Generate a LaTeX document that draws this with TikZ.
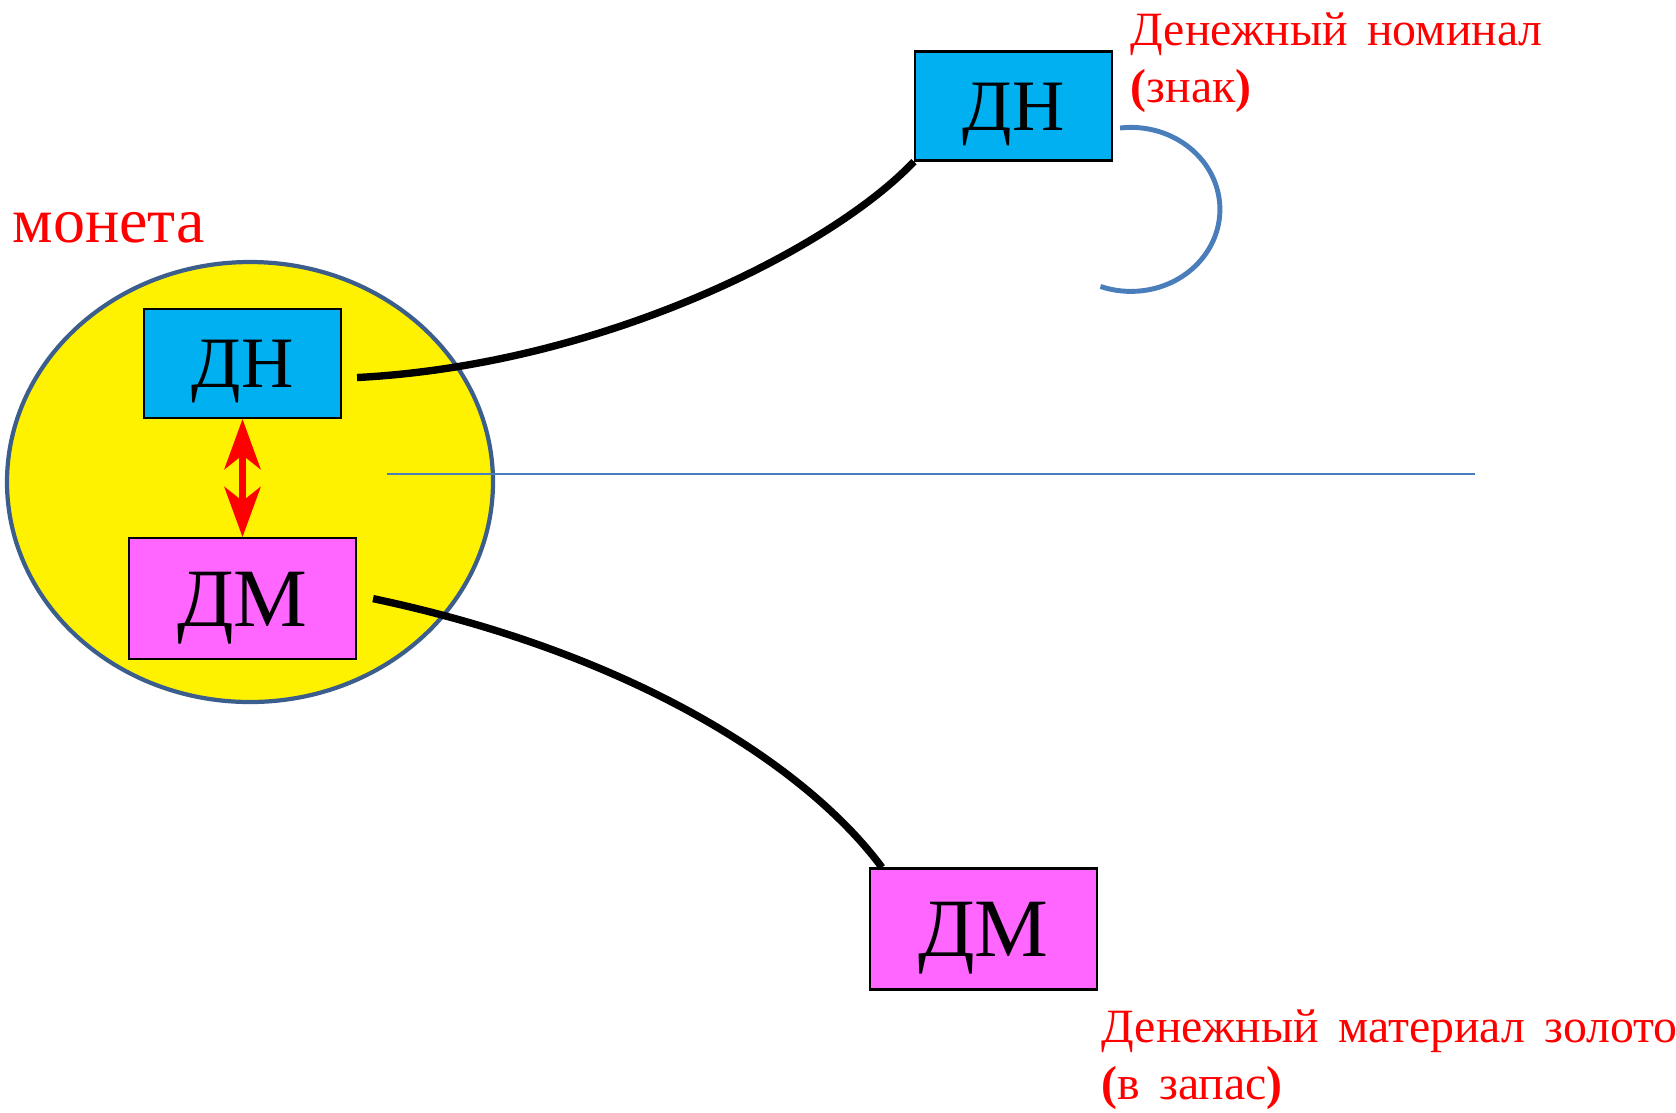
\documentclass[tikz,border=0pt]{standalone}
\usepackage{fontspec}
\setmainfont{Liberation Serif}
\usetikzlibrary{positioning,shapes.geometric,arrows.meta}
\definecolor{dncyan}{HTML}{00B0F0}
\definecolor{dmpink}{HTML}{FF66FF}
\definecolor{coinedge}{HTML}{3C5E8C}
\definecolor{linkblue}{HTML}{4A7EBB}
\newcommand\notefont{\fontsize{13.6}{16.2}\selectfont\spaceskip=0.4em\relax}

\begin{document}
\begin{tikzpicture}[x=0.1mm,y=-0.1mm,
		dnbox/.style={draw=black,line width=0.6pt,fill=dncyan,inner sep=0pt,minimum width=19.7mm,minimum height=10.9mm,text height=4.8mm,text depth=0pt,font=\fontsize{20.6}{24}\selectfont},
		dmbox/.style={draw=black,line width=0.6pt,fill=dmpink,inner sep=0pt,minimum width=22.7mm,minimum height=12.1mm,text height=5.5mm,text depth=0pt,font=\fontsize{23.6}{28}\selectfont},
		note/.style={text=red,anchor=base west,align=left,inner sep=0pt,font=\notefont},
		link/.style={line width=2.1pt},
		coinhead/.tip={Stealth[length=5mm,width=3.6mm,inset=1.4mm]},
	]
		\useasboundingbox (0,0) rectangle (1676,1112);
		\node [ellipse,draw=coinedge,line width=1.2pt,fill=yellow,minimum width=48.6mm,minimum height=44mm,inner sep=0pt] (coin) at (250,482) {};
		\node [text=red,anchor=base west,inner sep=0pt,font=\fontsize{18.2}{22}\selectfont] (coinname) at (12,242) {монета};
		\node [dnbox] (dn) at (242.5,363.5) {ДН};
		\node [dmbox,below=11.8mm of dn] (dm) {ДМ};
		\node [dnbox] (dnfree) at (1013.5,106) {ДН};
		\node [dmbox] (dmfree) at (983.5,929) {ДМ};
		\node [note] (nominal) at (1130,102) {Денежный номинал\\{\bfseries(}знак{\bfseries)}};
		\node [note] (material) at (1101,1099) {Денежный материал золото\\{\bfseries(}в запас{\bfseries)}};
		\coordinate (axisL) at (387,474);
		\coordinate (axisR) at (1475,474);
		\draw [linkblue,line width=0.5pt] (axisL) -- (axisR);
		\draw [linkblue,line width=1.4pt] ([shift={(7,22)}]dnfree.east) arc [start angle=97,end angle=-110,x radius=8.9mm,y radius=8.2mm];
		\draw [red,line width=2pt,coinhead-coinhead] (dn.south) -- (dm.north);
		\draw [link] ([shift={(15,14)}]dn.east) .. controls (600,365) and (830,250) .. (dnfree.south west);
		\draw [link] ([shift={(16,0)}]dm.east) .. controls (640,655) and (810,770) .. ([shift={(13,0)}]dmfree.north west);
\end{tikzpicture}
\end{document}
